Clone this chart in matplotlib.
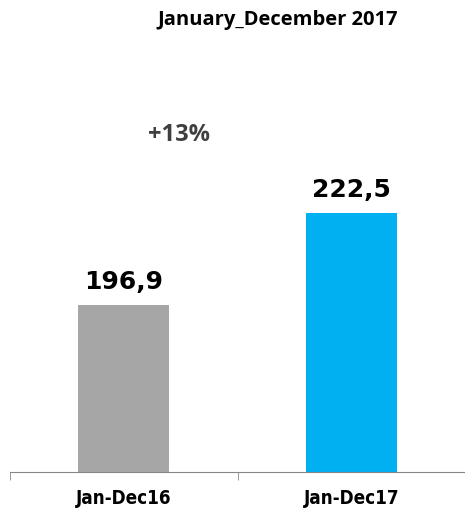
import matplotlib
matplotlib.use("Agg")
import matplotlib.pyplot as plt

categories = ["Jan-Dec16", "Jan-Dec17"]
values = [196.9, 222.5]
value_labels = ["196,9", "222,5"]
colors = ["#A6A6A6", "#00B0F0"]
title = "January_December 2017"
growth_label = "+13%"

fig = plt.figure(figsize=(4.65, 5.08), dpi=100)
ax = fig.add_axes([10 / 465, 36 / 508, 455 / 465, 432 / 508])

x = list(range(len(categories)))
ax.bar(x, values, width=0.40, color=colors)

ax.set_xlim(-0.5, 1.5)
ax.set_ylim(150.4, 270.6)

for xi, v, lab in zip(x, values, value_labels):
    ax.annotate(lab, (xi, v), xytext=(0, 8), textcoords="offset points",
                ha="center", va="bottom", fontsize=18, fontweight="bold",
                family="DejaVu Sans", color="black")

for s in ["top", "left", "right"]:
    ax.spines[s].set_visible(False)
ax.spines["bottom"].set_color("#868686")
ax.set_yticks([])
ax.set_xticks(x)
ax.set_xticklabels(categories, fontsize=13.5, fontweight="bold",
                   family="DejaVu Sans", fontstretch="condensed")
ax.tick_params(axis="x", which="major", length=0, pad=12)
ax.set_xticks([-0.5, 0.5, 1.5], minor=True)
ax.tick_params(axis="x", which="minor", length=6, color="#868686", direction="out")

fig.text(278 / 465, 1 - 20 / 508, title, ha="center", va="center",
         fontsize=14.5, fontweight="bold", family="Open Sans", color="black")
fig.text(179 / 465, 1 - 135 / 508, growth_label, ha="center", va="center",
         fontsize=17, fontweight="bold", family="Open Sans", color="#404040")

fig.savefig("out.png", dpi=100)
